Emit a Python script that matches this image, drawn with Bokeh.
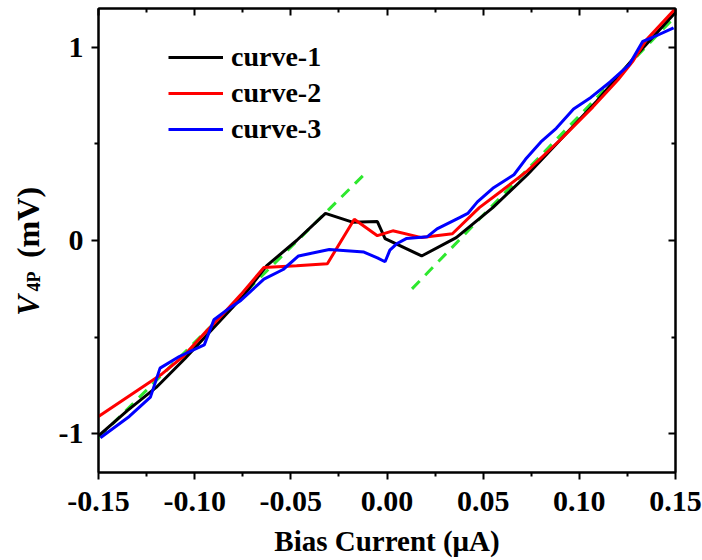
import math
from bokeh.plotting import figure
from bokeh.layouts import row
from bokeh.models import (LinearAxis, FixedTicker, Legend, LegendItem,
                          Range1d, CustomJSTickFormatter)
from bokeh.core.properties import value
from bokeh.embed import file_html
from bokeh.resources import INLINE

# ---- data ----
x1 = [-0.150, -0.135, -0.120, -0.105, -0.090, -0.075, -0.0625, -0.047, -0.032,
      -0.018, -0.005, -0.001, 0.018, 0.036, 0.055, 0.073, 0.091, 0.109, 0.128, 0.150]
y1 = [-1.01, -0.88, -0.76, -0.61, -0.45, -0.29, -0.13, 0.00, 0.14,
      0.095, 0.098, 0.01, -0.08, 0.015, 0.17, 0.34, 0.53, 0.72, 0.94, 1.18]

x2 = [-0.150, -0.117, -0.106, -0.094, -0.088, -0.076, -0.064, -0.047, -0.031,
      -0.017, -0.005, 0.003, 0.018, 0.034, 0.048, 0.060, 0.073, 0.090, 0.107,
      0.120, 0.128, 0.135, 0.150]
y2 = [-0.91, -0.69, -0.60, -0.47, -0.41, -0.28, -0.14, -0.13, -0.12,
      0.11, 0.025, 0.05, 0.015, 0.035, 0.17, 0.26, 0.36, 0.52, 0.69,
      0.83, 0.93, 1.04, 1.20]

x3 = [-0.149, -0.134, -0.123, -0.118, -0.108, -0.095, -0.090, -0.082, -0.076,
      -0.064, -0.054, -0.046, -0.030, -0.012, -0.005, -0.001, 0.0015, 0.005,
      0.010, 0.021, 0.026, 0.038, 0.042, 0.047, 0.055, 0.066, 0.072, 0.080,
      0.088, 0.097, 0.106, 0.116, 0.126, 0.133, 0.138, 0.149]
y3 = [-1.02, -0.91, -0.81, -0.66, -0.60, -0.54, -0.41, -0.35, -0.31,
      -0.20, -0.15, -0.08, -0.047, -0.06, -0.09, -0.11, -0.05, -0.017,
      0.01, 0.02, 0.06, 0.12, 0.14, 0.20, 0.27, 0.34, 0.42, 0.51,
      0.58, 0.68, 0.74, 0.82, 0.91, 1.03, 1.05, 1.10]

fit1_x = [-0.150, -0.012]
fit1_y = [-1.02, 0.34]
fit2_x = [0.013, 0.150]
fit2_y = [-0.25, 1.16]

series_names = ["curve-1", "curve-2", "curve-3"]
x_ticks = [-0.15, -0.10, -0.05, 0.00, 0.05, 0.10, 0.15]
x_tick_labels = ["-0.15", "-0.10", "-0.05", "0.00", "0.05", "0.10", "0.15"]
x_minor = [-0.125, -0.075, -0.025, 0.025, 0.075, 0.125]
y_ticks = [-1, 0, 1]
y_tick_labels = ["-1", "0", "1"]
y_minor = [-0.5, 0.5]
x_title = "Bias Current (\u03bcA)"
y_title_parts = ["V", "4P", "(mV)"]

FONT = "Liberation Serif"
W_LEFT = 50
H = 560
TOP, BOTTOM, FRAME_H = 8, 88, 464

# ---- narrow strip holding the composite y-axis title ----
# its frame matches the main frame, and its ranges map data units to pixels
side = figure(frame_width=W_LEFT, frame_height=FRAME_H, output_backend="svg",
              toolbar_location=None,
              x_range=Range1d(0, W_LEFT), y_range=Range1d(BOTTOM, H - TOP),
              min_border_left=0, min_border_right=0,
              min_border_top=TOP, min_border_bottom=BOTTOM)
side.axis.visible = False
side.grid.visible = False
side.outline_line_color = None
side.border_fill_color = "white"
side.background_fill_color = "white"
# centres of each part in page pixels (x from left, y from top)
side.text(x=[27.5], y=[H - 305], text=[y_title_parts[0]], angle=math.pi / 2,
          text_font=value(FONT), text_font_style="bold italic",
          text_font_size="31px", text_align="center", text_baseline="middle",
          text_color="black")
side.text(x=[33.5], y=[H - 281], text=[y_title_parts[1]], angle=math.pi / 2,
          text_font=value(FONT), text_font_style="bold",
          text_font_size="18px", text_align="center", text_baseline="middle",
          text_color="black")
side.text(x=[27], y=[H - 222], text=[y_title_parts[2]], angle=math.pi / 2,
          text_font=value(FONT), text_font_style="bold",
          text_font_size="32px", text_align="center", text_baseline="middle",
          text_color="black")

# ---- main plot ----
p = figure(frame_width=577, frame_height=FRAME_H, output_backend="svg",
           toolbar_location=None,
           x_range=Range1d(-0.15, 0.15), y_range=Range1d(-1.2, 1.2),
           min_border_left=98 - W_LEFT, min_border_right=27, min_border_top=TOP,
           min_border_bottom=BOTTOM)
p.xgrid.visible = False
p.ygrid.visible = False
p.outline_line_color = "black"
p.outline_line_width = 2
p.background_fill_color = "white"
p.border_fill_color = "white"

p.line(fit1_x, fit1_y, line_color="#2ee82e", line_width=3, line_dash="11 8")
p.line(fit2_x, fit2_y, line_color="#2ee82e", line_width=3, line_dash="11 8")

r1 = p.line(x1, y1, line_color="black", line_width=3)
r2 = p.line(x2, y2, line_color="#ff0000", line_width=3)
r3 = p.line(x3, y3, line_color="#0000ff", line_width=3)

xa = p.xaxis[0]
ya = p.yaxis[0]
xa.ticker = FixedTicker(ticks=x_ticks, minor_ticks=x_minor)
xa.major_label_overrides = {t: l for t, l in zip(x_ticks, x_tick_labels)}
ya.ticker = FixedTicker(ticks=y_ticks, minor_ticks=y_minor)
ya.major_label_overrides = {t: l for t, l in zip(y_ticks, y_tick_labels)}

for ax in (xa, ya):
    ax.major_tick_out = 7
    ax.major_tick_in = 0
    ax.minor_tick_out = 4
    ax.minor_tick_in = 0
    ax.axis_line_width = 2
    ax.major_tick_line_width = 2
    ax.minor_tick_line_width = 2
    ax.major_label_text_font = FONT
    ax.major_label_text_font_style = "bold"
    ax.major_label_text_font_size = "30px"
    ax.major_label_text_color = "black"

xa.major_label_standoff = 12
ya.major_label_standoff = 8
xa.axis_label = x_title
xa.axis_label_text_font = FONT
xa.axis_label_text_font_style = "bold"
xa.axis_label_text_font_size = "29px"
xa.axis_label_standoff = 11
xa.axis_label_text_color = "black"

blank = CustomJSTickFormatter(code="return ''")
top = LinearAxis(ticker=FixedTicker(ticks=x_ticks, minor_ticks=x_minor), formatter=blank)
right = LinearAxis(ticker=FixedTicker(ticks=y_ticks, minor_ticks=y_minor), formatter=blank)
for ax in (top, right):
    ax.major_tick_out = 0
    ax.major_tick_in = 7
    ax.minor_tick_out = 0
    ax.minor_tick_in = 4
    ax.axis_line_width = 2
    ax.major_tick_line_width = 2
    ax.minor_tick_line_width = 2
    ax.major_label_standoff = 0
p.add_layout(top, "above")
p.add_layout(right, "right")

legend = Legend(items=[LegendItem(label=series_names[0], renderers=[r1]),
                       LegendItem(label=series_names[1], renderers=[r2]),
                       LegendItem(label=series_names[2], renderers=[r3])],
                location=(70, 325))
legend.padding = 0
legend.margin = 0
legend.spacing = 0
legend.border_line_color = None
legend.background_fill_alpha = 0
legend.glyph_width = 55
legend.glyph_height = 36
legend.label_height = 36
legend.label_standoff = 8
legend.label_text_font = FONT
legend.label_text_font_style = "bold"
legend.label_text_font_size = "28px"
legend.label_text_color = "black"
p.add_layout(legend)

layout = row(side, p, spacing=0)
open("out.html", "w").write(file_html(layout, INLINE))
